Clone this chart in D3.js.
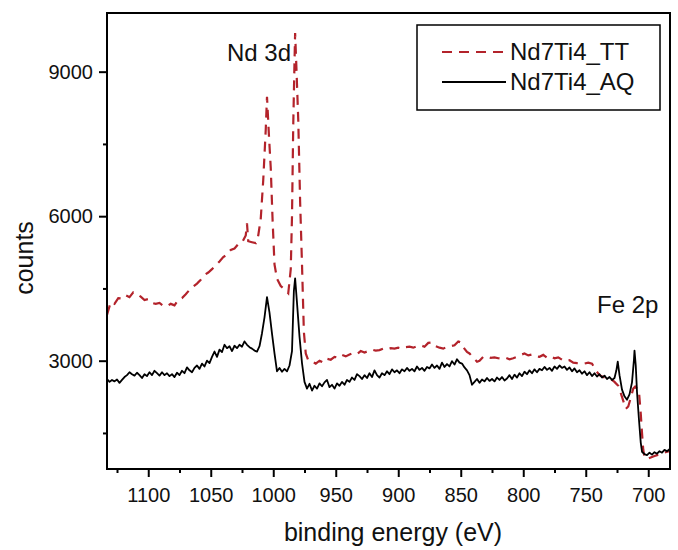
<!DOCTYPE html>
<html>
<head>
<meta charset="utf-8">
<script src="https://cdn.jsdelivr.net/npm/d3@7"></script>
<style>
  body { margin: 0; background: #fff; }
  svg text { font-family: "Liberation Sans", Arial, sans-serif; fill: #111; }
</style>
</head>
<body>
<div id="chart"></div>
<script>
// Nd7Ti4_AQ survey (solid black)
const aqEnergy = [1133,1131,1129,1127,1125,1123,1121,1119,1117,1115,1113,1111,1109,1107,1105,1103,1101,1099,1097,1095,
  1093,1091,1089,1087,1085,1083,1081,1079,1077,1075,1073,1071,1069,1067,1065,1063,1061,1059,1057,1055,
  1053,1051,1049,1047,1045,1043,1041,1039,1037,1035,1033,1031,1029,1027,1025,1023,1021,1019,1017,1015,
  1013,1011,1009,1007,1005,1003,1001,999,997,995,993,991,989,987,985,983.5,982.5,981,979,977,
  975,973,971,969,967,965,963,961,959,957,955,953,951,949,947,945,943,941,939,937,
  935,933,931,929,927,925,923,921,919,917,915,913,911,909,907,905,903,901,899,897,
  895,893,891,889,887,885,883,881,879,877,875,873,871,869,867,865,863,861,859,857,
  855,853,851,849,847,845,843,841,839,837,835,833,831,829,827,825,823,821,819,817,
  815,813,811,809,807,805,803,801,799,797,795,793,791,789,787,785,783,781,779,777,
  775,773,771,769,767,765,763,761,759,757,755,753,751,749,747,745,743,741,739,737,
  735,733,731,729,727,725.5,724.4,723,721,719,717,715,713,711.5,711,710,709,707.5,706,705,
  703,701,699,697,695,693,691,689,687,685,683];
const aqCounts = [2620,2560,2600,2570,2610,2540,2600,2660,2700,2760,2720,2690,2750,2700,2640,2720,2680,2760,2700,2790,
  2740,2690,2760,2700,2740,2680,2720,2660,2750,2700,2790,2740,2860,2800,2760,2850,2900,2830,2940,2880,
  3000,2950,3080,3190,3080,3230,3180,3330,3260,3300,3200,3310,3260,3330,3290,3400,3330,3280,3250,3210,
  3190,3300,3570,3900,4320,4000,3560,3150,2780,2850,2770,2830,2780,2900,3200,4450,4710,4200,3500,2950,
  2560,2420,2520,2380,2480,2420,2530,2470,2550,2600,2450,2500,2420,2530,2480,2560,2500,2600,2560,2650,
  2600,2720,2680,2620,2700,2640,2740,2660,2800,2700,2650,2740,2700,2780,2720,2820,2760,2800,2740,2820,
  2780,2850,2790,2830,2780,2880,2810,2850,2790,2870,2840,2920,2850,2900,2830,2960,2870,2930,2880,2990,
  2920,3030,2960,2940,2860,2800,2700,2500,2560,2620,2540,2610,2570,2640,2580,2620,2570,2650,2600,2660,
  2590,2630,2700,2620,2710,2650,2740,2680,2770,2720,2800,2740,2820,2760,2830,2800,2870,2810,2850,2790,
  2880,2830,2900,2850,2880,2810,2860,2780,2840,2760,2800,2730,2780,2700,2760,2680,2740,2670,2720,2650,
  2690,2620,2660,2600,2640,2800,2980,2700,2400,2260,2190,2300,2550,3000,3210,2900,2350,1800,1300,1110,
  1060,1040,1090,1050,1100,1070,1120,1090,1150,1120,1160];

// Nd7Ti4_TT survey (red dashed)
const ttEnergy = [1133,1130,1127,1124,1121,1118,1115,1112,1109,1106,1103,1100,1097,1094,1091,1088,1085,1082,1079,1076,
  1073,1070,1067,1064,1061,1058,1055,1052,1049,1046,1043,1040,1037,1034,1031,1028,1025,1022,1021,1020,
  1017,1014,1012,1010,1008,1006,1005,1003.5,1002,1000.5,999,997,994,991,988,986,985,984,983,982.5,
  981.5,980,978.5,977,975.5,974,972,969,966,963,960,957,954,951,948,945,942,939,936,933,
  930,927,924,921,918,915,912,909,906,903,900,897,894,891,888,885,882,879,876,873,
  870,867,864,861,858,855,852,850,848,845,843,840,837,835,832,829,826,823,820,817,
  814,811,808,805,802,799,796,793,790,787,784,781,778,775,772,769,766,763,760,757,
  754,751,748,745,742,739,736,733,730,727,724,721,718,716,714,712,710.5,709,707.5,706,
  705,704,703,701,699,697,695,693,691,689,687,685,683];
const ttCounts = [3950,4220,4180,4300,4290,4360,4320,4420,4380,4330,4260,4280,4200,4180,4200,4140,4130,4180,4150,4260,
  4300,4380,4470,4540,4600,4680,4780,4830,4900,4980,5060,5150,5200,5300,5330,5420,5450,5600,5850,5480,
  5460,5440,5600,5950,6750,7800,8480,7700,7000,5900,5000,4700,4550,4480,4400,4900,6000,7900,9200,9800,
  9100,8000,6300,5000,3600,3150,3010,2980,2940,3000,2960,3040,3020,3080,3060,3120,3090,3130,3160,3140,
  3200,3170,3200,3230,3210,3220,3250,3230,3260,3250,3270,3250,3280,3290,3270,3300,3320,3290,3370,3380,
  3300,3270,3250,3290,3300,3320,3400,3380,3280,3180,3150,3060,2980,3000,3080,3090,3060,3070,3050,3040,
  3060,3030,3050,3080,3120,3150,3110,3130,3090,3080,3120,3060,3090,3050,3070,3020,2990,3010,2960,2950,
  2950,2940,2960,2940,2800,2700,2660,2650,2620,2560,2480,2250,2000,2050,2230,2420,2460,2420,2380,1900,
  1500,1150,1000,955,980,1000,1020,1040,1050,1070,1090,1110,1120];

const xMajor = [1100, 1050, 1000, 950, 900, 850, 800, 750, 700];
const xMinor = [1125, 1075, 1025, 975, 925, 875, 825, 775, 725];
const yMajor = [3000, 6000, 9000];
const yMinor = [1500, 4500, 7500];

const seriesNames = ['Nd7Ti4_TT', 'Nd7Ti4_AQ'];

const W = 678, H = 550;
const margin = { top: 13, right: 8, bottom: 81, left: 107 };
const width = W - margin.left - margin.right;
const height = H - margin.top - margin.bottom;

const svg = d3.select('#chart').append('svg')
  .attr('width', W)
  .attr('height', H);

const g = svg.append('g')
  .attr('transform', `translate(${margin.left},${margin.top})`);

const x = d3.scaleLinear().domain([1133, 682.6]).range([0, width]);
const y = d3.scaleLinear().domain([751.5, 10218]).range([height, 0]);

// clip so curves stay inside the frame
g.append('clipPath').attr('id', 'plot-clip')
  .append('rect').attr('width', width).attr('height', height);

const line = d3.line()
  .x(d => x(d[0]))
  .y(d => y(d[1]));

const tt = ttEnergy.map((e, i) => [e, ttCounts[i]]);
const aq = aqEnergy.map((e, i) => [e, aqCounts[i]]);

const curves = g.append('g').attr('clip-path', 'url(#plot-clip)');

curves.append('path')
  .datum(tt)
  .attr('d', line)
  .attr('fill', 'none')
  .attr('stroke', '#b3232b')
  .attr('stroke-width', 2.2)
  .attr('stroke-dasharray', '10,7');

curves.append('path')
  .datum(aq)
  .attr('d', line)
  .attr('fill', 'none')
  .attr('stroke', '#000')
  .attr('stroke-width', 1.8)
  .attr('stroke-linejoin', 'round');

// axes: major ticks with labels, minor ticks without
const styleAxis = sel => {
  sel.select('.domain').remove();
  sel.selectAll('line').attr('stroke', '#000').attr('stroke-width', 2);
  sel.selectAll('text').style('font-size', '20px').attr('fill', '#111');
};

g.append('g')
  .attr('transform', `translate(0,${height})`)
  .call(d3.axisBottom(x).tickValues(xMajor).tickSize(8).tickPadding(11).tickFormat(d3.format('d')))
  .call(styleAxis);

g.append('g')
  .attr('transform', `translate(0,${height})`)
  .call(d3.axisBottom(x).tickValues(xMinor).tickSize(4).tickFormat(''))
  .call(styleAxis);

g.append('g')
  .call(d3.axisLeft(y).tickValues(yMajor).tickSize(8).tickPadding(6).tickFormat(d3.format('d')))
  .call(styleAxis);

g.append('g')
  .call(d3.axisLeft(y).tickValues(yMinor).tickSize(4).tickFormat(''))
  .call(styleAxis);

// frame
g.append('rect')
  .attr('width', width)
  .attr('height', height)
  .attr('fill', 'none')
  .attr('stroke', '#000')
  .attr('stroke-width', 2);

// axis titles
svg.append('text')
  .attr('x', 393)
  .attr('y', 541)
  .attr('text-anchor', 'middle')
  .style('font-size', '25px')
  .text('binding energy (eV)');

svg.append('text')
  .attr('transform', 'translate(33,258) rotate(-90)')
  .attr('text-anchor', 'middle')
  .style('font-size', '25px')
  .text('counts');

// peak annotations
svg.append('text')
  .attr('x', 227).attr('y', 61)
  .style('font-size', '24px')
  .text('Nd 3d');

svg.append('text')
  .attr('x', 597).attr('y', 313)
  .style('font-size', '24px')
  .text('Fe 2p');

// legend
const legend = svg.append('g');
legend.append('rect')
  .attr('x', 417).attr('y', 25)
  .attr('width', 243).attr('height', 85)
  .attr('fill', '#fff')
  .attr('stroke', '#000')
  .attr('stroke-width', 1.5);

const legendStyles = [
  { color: '#b3232b', dash: '10,7', w: 2.2 },
  { color: '#000', dash: null, w: 1.8 }
];

seriesNames.forEach((name, i) => {
  const ly = 52 + i * 30;
  legend.append('line')
    .attr('x1', 442).attr('x2', 506)
    .attr('y1', ly).attr('y2', ly)
    .attr('stroke', legendStyles[i].color)
    .attr('stroke-width', legendStyles[i].w)
    .attr('stroke-dasharray', legendStyles[i].dash);
  legend.append('text')
    .attr('x', 510).attr('y', ly + 8)
    .style('font-size', '24px')
    .text(name);
});
</script>
</body>
</html>
